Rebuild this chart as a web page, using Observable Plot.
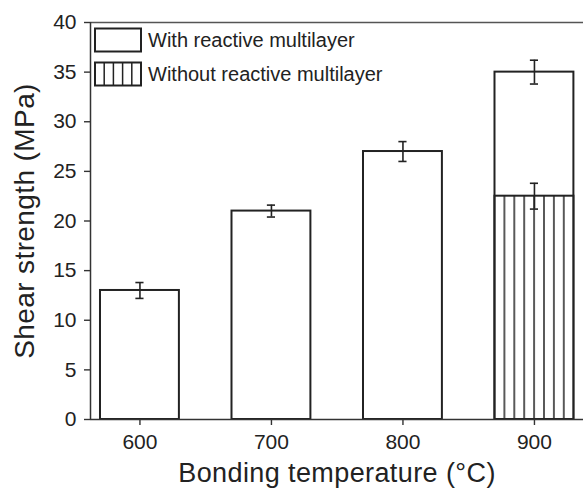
<!DOCTYPE html>
<html>
<head>
<meta charset="utf-8">
<script src="https://cdn.jsdelivr.net/npm/d3@7"></script>
<script src="https://cdn.jsdelivr.net/npm/@observablehq/plot@0.6"></script>
<style>
  html, body { margin: 0; padding: 0; background: #fff; }
</style>
</head>
<body>
<div id="chart"></div>
<script>
// ---- data ----
const temperatures = [600, 700, 800, 900];
const withValues = [13, 21, 27, 35];
const withErrors = [0.8, 0.6, 1.0, 1.2];
const withoutTemperatures = [900];
const withoutValues = [22.5];
const withoutErrors = [1.3];
const xTicks = [600, 700, 800, 900];
const yTicks = [0, 5, 10, 15, 20, 25, 30, 35, 40];
const legendLabels = ["With reactive multilayer", "Without reactive multilayer"];
const xTitle = "Bonding temperature (°C)";
const yTitle = "Shear strength (MPa)";

// ---- build tables ----
const withData = temperatures.map((T, i) => ({T, v: withValues[i], e: withErrors[i]}));
const withoutData = withoutTemperatures.map((T, i) => ({T, v: withoutValues[i], e: withoutErrors[i]}));
const allErr = withData.concat(withoutData);

const halfBar = 30;   // bar half-width in °C
const capHalf = 3.1;  // error cap half-width in °C
const ink = "#222";
const xDomain = [562.4, 937.3];

const chart = Plot.plot({
  width: 583,
  height: 496,
  marginLeft: 90,
  marginRight: 0,
  marginTop: 22,
  marginBottom: 77,
  style: {fontFamily: "'Liberation Sans', Arial, sans-serif", background: "#fff", color: ink},
  x: {domain: xDomain},
  y: {domain: [0, 40]},
  marks: [
    Plot.rect(withData, {x1: d => d.T - halfBar, x2: d => d.T + halfBar, y1: () => 0, y2: "v",
      fill: "#fff", stroke: ink, strokeWidth: 2}),
    Plot.rect(withoutData, {x1: d => d.T - halfBar, x2: d => d.T + halfBar, y1: () => 0, y2: "v",
      fill: "url(#vhatch)", stroke: ink, strokeWidth: 2}),
    Plot.ruleX(allErr, {x: "T", y1: d => d.v - d.e, y2: d => d.v + d.e, stroke: ink, strokeWidth: 1.6}),
    Plot.ruleY(allErr, {y: d => d.v + d.e, x1: d => d.T - capHalf, x2: d => d.T + capHalf, stroke: ink, strokeWidth: 1.6}),
    Plot.ruleY(allErr, {y: d => d.v - d.e, x1: d => d.T - capHalf, x2: d => d.T + capHalf, stroke: ink, strokeWidth: 1.6}),
    Plot.ruleY([0], {stroke: "#333", strokeWidth: 1.5}),
    Plot.ruleY([40], {stroke: "#555", strokeWidth: 1.3}),
    Plot.ruleX([xDomain[0]], {stroke: "#333", strokeWidth: 1.5}),
    Plot.axisY({ticks: yTicks, tickSize: 6, tickPadding: 8, fontSize: 21, label: null, stroke: "#333", strokeWidth: 1.4}),
    Plot.axisX({ticks: xTicks, tickSize: 6, tickPadding: 9, fontSize: 21, label: null, stroke: "#333", strokeWidth: 1.4}),
    Plot.text([xTitle], {frameAnchor: "bottom", textAnchor: "middle", dy: 62, fontSize: 27, fill: ink,
      style: "letter-spacing: 0.4px"}),
    Plot.text([yTitle], {frameAnchor: "left", textAnchor: "middle", dx: -65, rotate: -90, fontSize: 28, fill: ink})
  ]
});

document.getElementById("chart").appendChild(chart);

// ---- hatch pattern aligned to the hatched bar ----
const xs = chart.scale("x");
const hatchLeft = xs.apply(withoutTemperatures[0] - halfBar);
const step = 9.9;
const svg = d3.select(chart);
svg.selectAll("text").filter(function () { return this.textContent === xTitle; }).style("letter-spacing", "0.4px");
svg.selectAll("text").filter(function () { return this.textContent === yTitle; }).style("letter-spacing", "0.4px");
const defs = svg.insert("defs", ":first-child");
const pat = defs.append("pattern")
  .attr("id", "vhatch")
  .attr("patternUnits", "userSpaceOnUse")
  .attr("x", hatchLeft - step / 2)
  .attr("y", 0)
  .attr("width", step)
  .attr("height", 10);
pat.append("rect").attr("width", step).attr("height", 10).attr("fill", "#fff");
pat.append("line").attr("x1", step / 2).attr("x2", step / 2).attr("y1", 0).attr("y2", 10)
  .attr("stroke", ink).attr("stroke-width", 1.5);

// ---- legend (inside the plot, top-left) ----
const lg = svg.append("g").attr("font-family", "'Liberation Sans', Arial, sans-serif")
  .attr("font-size", 20).attr("fill", ink).attr("text-anchor", "start");
const boxX = 95, boxW = 46, boxH = 23;
const rows = [28.5, 62.5];
legendLabels.forEach((label, i) => {
  const y0 = rows[i];
  lg.append("rect").attr("x", boxX).attr("y", y0).attr("width", boxW).attr("height", boxH)
    .attr("fill", "#fff").attr("stroke", ink).attr("stroke-width", 2);
  if (i === 1) {
    for (let k = 1; k < 5; k++) {
      const lx = boxX + k * boxW / 5;
      lg.append("line").attr("x1", lx).attr("x2", lx).attr("y1", y0).attr("y2", y0 + boxH)
        .attr("stroke", ink).attr("stroke-width", 1.5);
    }
  }
  lg.append("text").attr("x", 148).attr("y", y0 + boxH / 2).attr("dy", "0.35em")
    .attr("text-anchor", "start").text(label);
});
</script>
</body>
</html>
